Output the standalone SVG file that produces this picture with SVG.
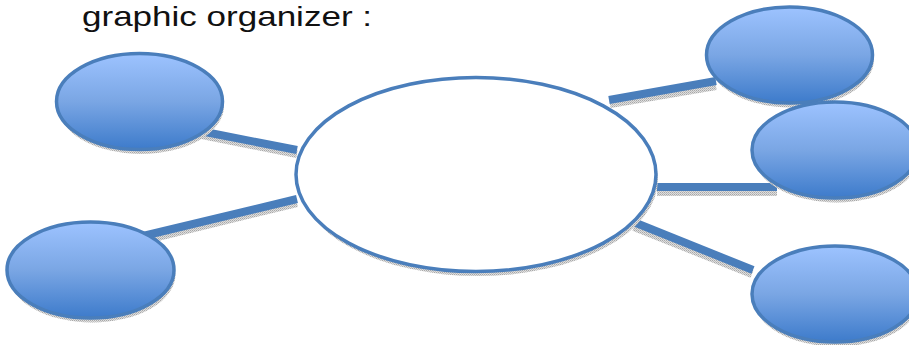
<svg xmlns="http://www.w3.org/2000/svg" width="909" height="345" viewBox="0 0 909 345">
  <defs>
    <linearGradient id="blueFill" x1="0" y1="0" x2="0" y2="1">
      <stop offset="0" stop-color="#9dc3ff"/>
      <stop offset="0.5" stop-color="#7aa6e4"/>
      <stop offset="1" stop-color="#3d7bcb"/>
    </linearGradient>
    <pattern id="shadowTex" width="2" height="2" patternUnits="userSpaceOnUse">
      <rect width="2" height="2" fill="#dedede"/>
      <rect width="1" height="1" fill="#a8a8a8"/>
      <rect x="1" y="1" width="1" height="1" fill="#bdbdbd"/>
    </pattern>
  </defs>
  <style>
    .title { font-family: "Liberation Sans", "DejaVu Sans", sans-serif; font-size: 28px; fill: #111111; }
    .bubble { fill: url(#blueFill); stroke: #4a7ebb; stroke-width: 3.5; }
    .center { fill: #ffffff; stroke: #4a7ebb; stroke-width: 3.5; }
    .shadow { fill: url(#shadowTex); stroke: none; }
    .lineShadow { stroke: url(#shadowTex); stroke-width: 8; fill: none; }
    .conn { stroke: #4a7ebb; stroke-width: 8; fill: none; }
  </style>

  <text class="title" x="82" y="26" textLength="290" lengthAdjust="spacingAndGlyphs">graphic organizer :</text>

  <g id="connectors">
    <line class="lineShadow" x1="202" y1="135" x2="297" y2="154"/>
    <line class="lineShadow" x1="145" y1="240" x2="297" y2="203"/>
    <line class="lineShadow" x1="610" y1="104" x2="716" y2="86"/>
    <line class="lineShadow" x1="657" y1="192" x2="777" y2="192"/>
    <line class="lineShadow" x1="634" y1="227" x2="752" y2="274"/>
    <line class="conn" x1="200" y1="131" x2="297" y2="150"/>
    <line class="conn" x1="143" y1="236" x2="297" y2="199"/>
    <line class="conn" x1="609" y1="100" x2="716" y2="81"/>
    <line class="conn" x1="657" y1="187" x2="777" y2="187"/>
    <line class="conn" x1="636" y1="223" x2="753" y2="270"/>
  </g>

  <g id="center-node">
    <ellipse class="shadow" cx="478" cy="179" rx="180" ry="97"/>
    <ellipse class="center" cx="476" cy="174.5" rx="180" ry="97"/>
  </g>

  <g id="node-top-left">
    <ellipse class="shadow" cx="141" cy="106" rx="83" ry="48"/>
    <ellipse class="bubble" cx="139.5" cy="101.5" rx="83" ry="48"/>
  </g>

  <g id="node-bottom-left">
    <ellipse class="shadow" cx="92" cy="274.5" rx="83.5" ry="48"/>
    <ellipse class="bubble" cx="90.5" cy="270" rx="83.5" ry="48"/>
  </g>

  <g id="node-top-right">
    <ellipse class="shadow" cx="791" cy="59.5" rx="83" ry="48"/>
    <ellipse class="bubble" cx="789.5" cy="55" rx="83" ry="48"/>
  </g>

  <g id="node-middle-right">
    <ellipse class="shadow" cx="836.5" cy="154.5" rx="83" ry="48"/>
    <ellipse class="bubble" cx="835" cy="150" rx="83" ry="48"/>
  </g>

  <g id="node-bottom-right">
    <ellipse class="shadow" cx="836.5" cy="298.5" rx="83" ry="48"/>
    <ellipse class="bubble" cx="835" cy="294" rx="83" ry="48"/>
  </g>
</svg>
